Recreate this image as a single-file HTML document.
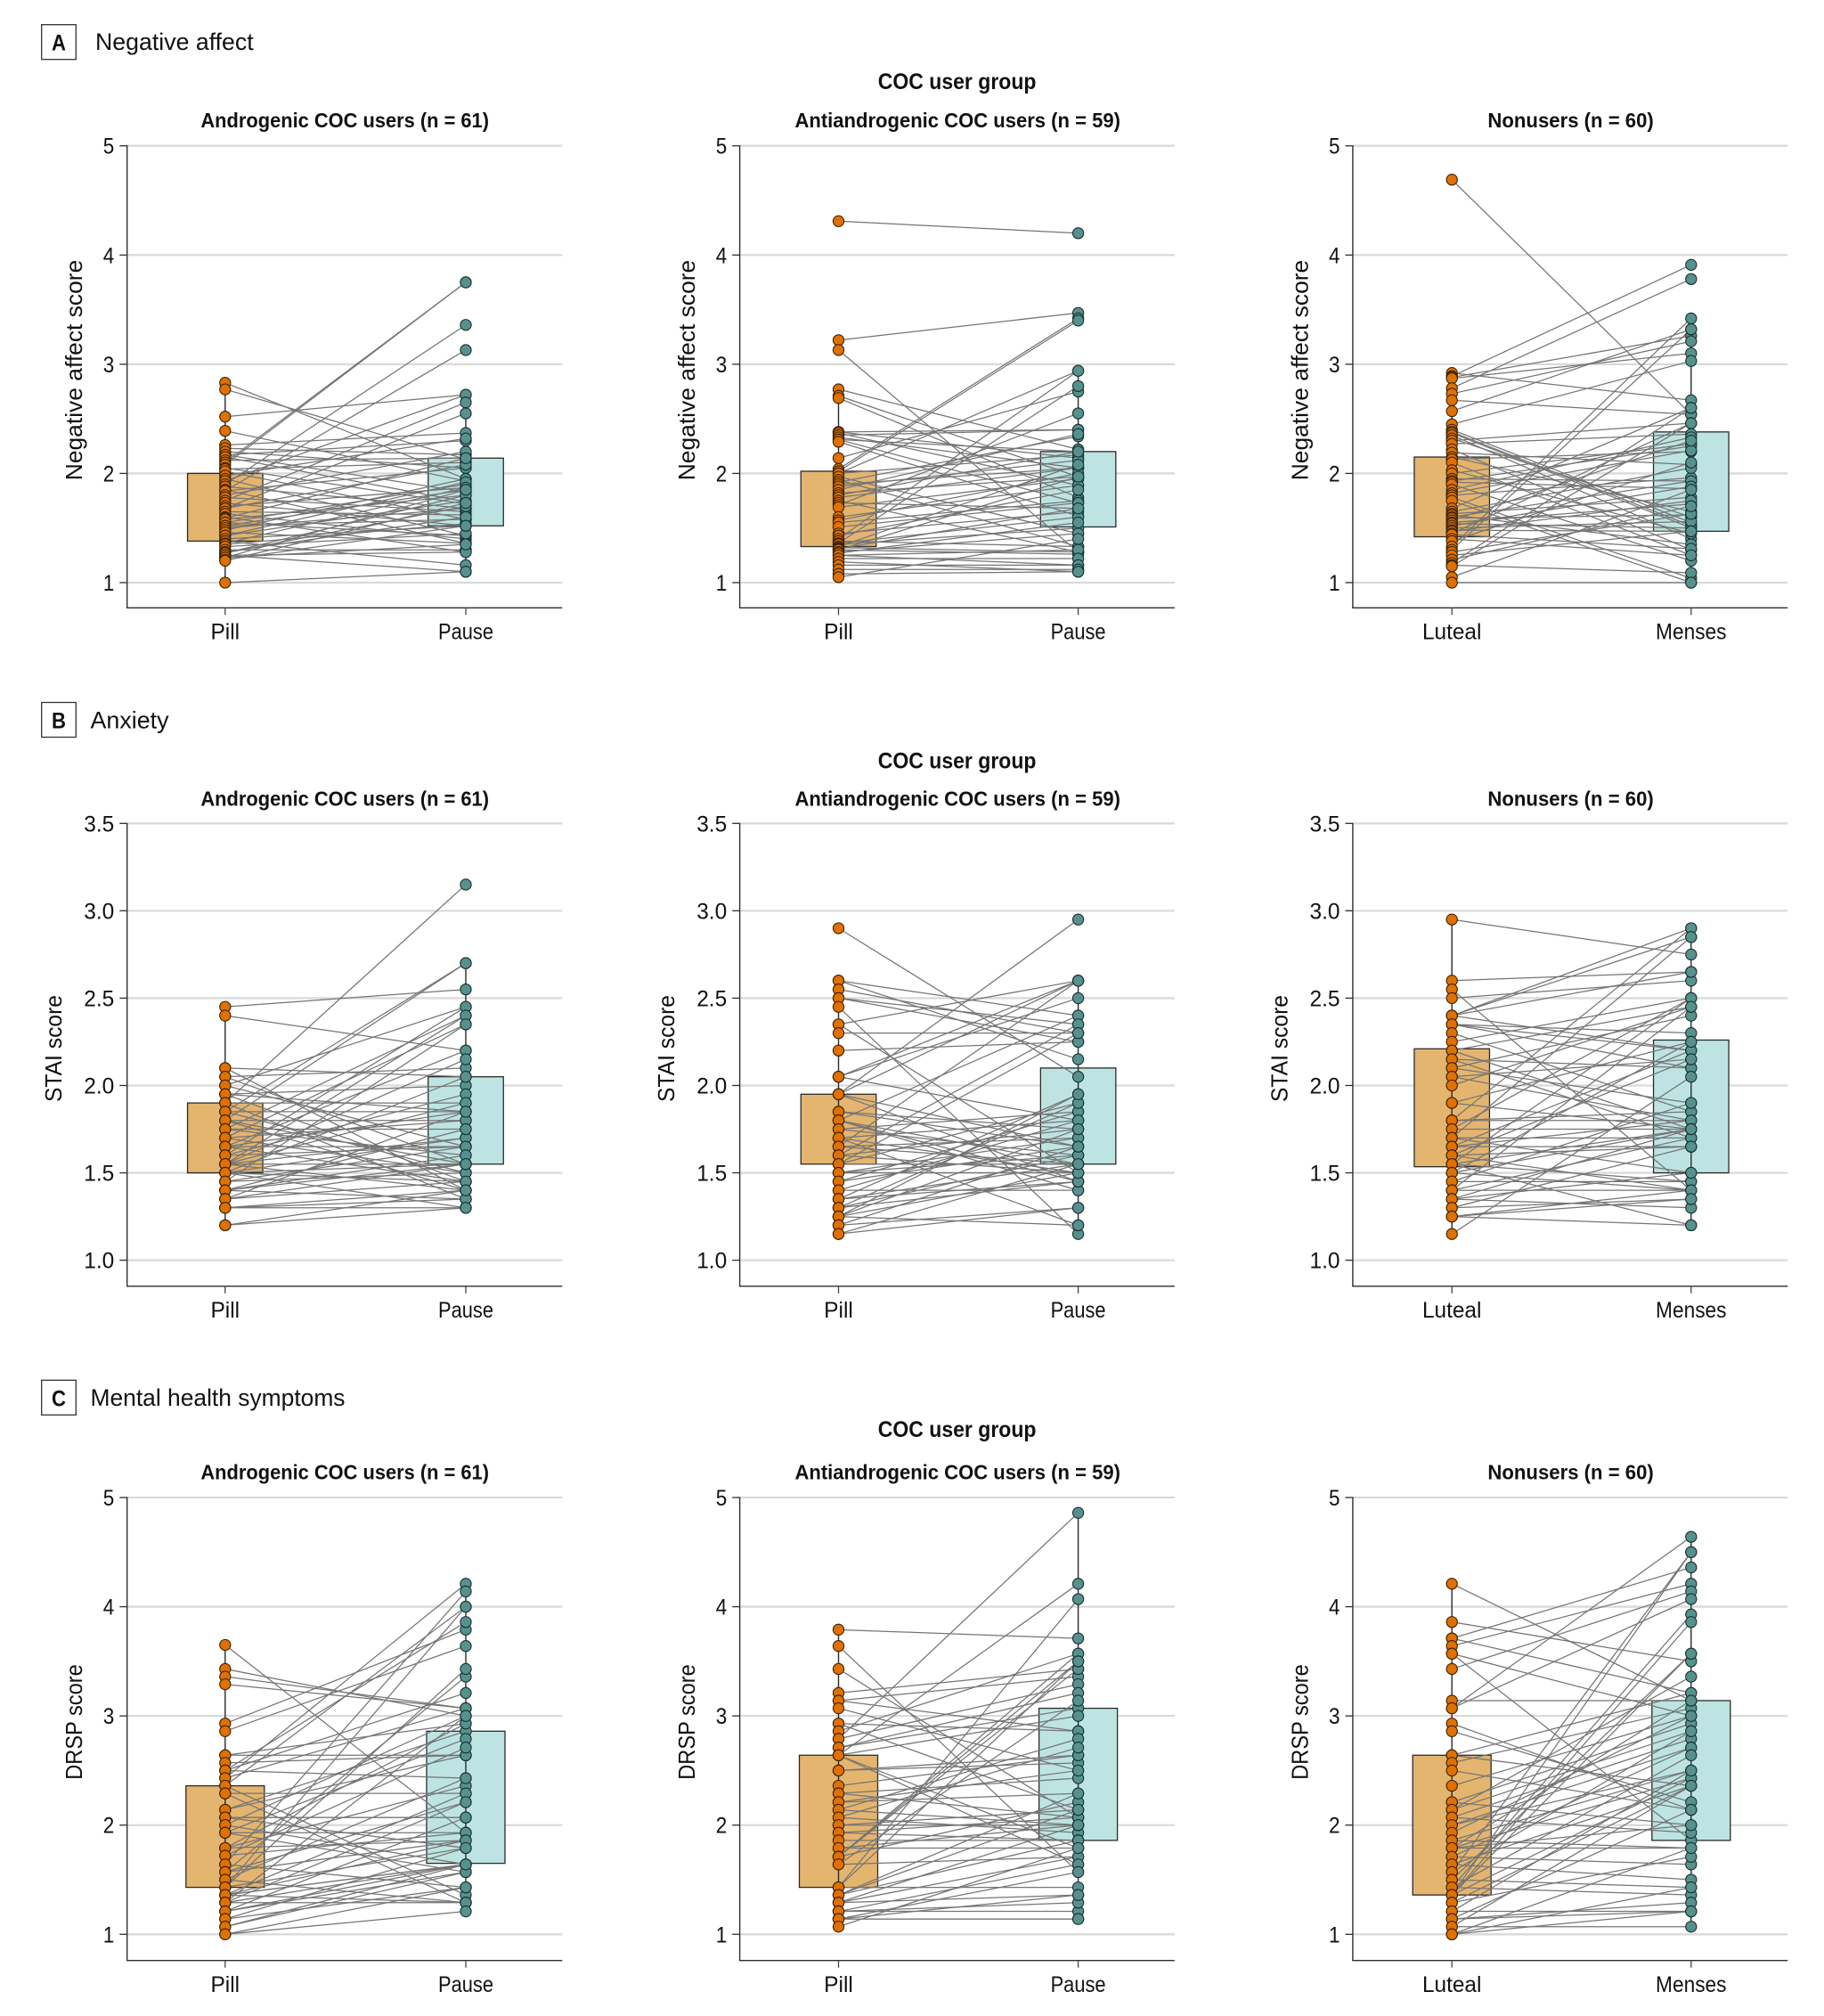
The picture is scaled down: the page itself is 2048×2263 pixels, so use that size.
<!DOCTYPE html>
<html lang="en">
<head>
<meta charset="utf-8">
<title>Negative affect, anxiety and mental health symptoms by COC user group</title>
<style>
html,body{margin:0;padding:0;background:#fff;}
svg{display:block;}
text{font-family:"Liberation Sans Narrow","Liberation Sans",sans-serif;fill:#111;}
</style>
</head>
<body>
<svg id="figure" xmlns="http://www.w3.org/2000/svg" width="2048" height="2263" viewBox="0 0 2048 2263"></svg>
<script>
// ---------- Categories and tick labels ----------
const cocCategories = ["Pill", "Pause"];
const nonuserCategories = ["Luteal", "Menses"];
const tickLabels1to5 = ["1", "2", "3", "4", "5"];
const tickLabelsStai = ["1.0", "1.5", "2.0", "2.5", "3.0", "3.5"];

// ---------- A: Negative affect ----------
const naAndroPill = [2.83,2.77,2.52,2.39,2.26,2.23,2.20,2.17,2.17,2.15,2.12,2.10,2.08,2.05,2.04,2.02,1.98,1.95,1.93,1.90,1.88,1.85,1.84,1.84,1.80,1.78,1.75,1.73,1.70,1.68,1.68,1.65,1.63,1.60,1.59,1.58,1.55,1.55,1.52,1.52,1.50,1.48,1.46,1.43,1.43,1.40,1.38,1.36,1.35,1.33,1.30,1.28,1.27,1.27,1.25,1.25,1.23,1.23,1.21,1.20,1.00];
const naAndroPause = [1.95,2.13,2.72,1.93,2.37,2.17,2.05,2.30,1.83,1.74,2.14,3.75,3.75,1.72,2.10,1.58,2.32,1.43,2.72,3.36,1.68,1.36,3.13,2.05,2.20,1.65,2.65,1.52,1.87,2.55,2.08,1.62,1.40,1.28,2.14,1.80,1.90,1.43,1.85,1.58,1.68,1.95,1.36,1.92,1.75,1.52,1.16,1.87,1.54,1.45,1.30,1.60,1.80,1.70,1.10,1.28,1.85,1.35,1.52,1.73,1.10];
const naAndroBoxPill = [1.38, 2.00];
const naAndroBoxPause = [1.52, 2.14];

const naAntiPill = [4.31,3.22,3.13,2.77,2.71,2.69,2.38,2.38,2.37,2.35,2.33,2.31,2.31,2.29,2.14,2.04,2.02,2.00,2.00,1.97,1.94,1.92,1.90,1.88,1.85,1.82,1.80,1.78,1.75,1.73,1.71,1.69,1.60,1.57,1.55,1.51,1.45,1.43,1.40,1.38,1.36,1.36,1.35,1.33,1.32,1.31,1.30,1.30,1.28,1.27,1.25,1.25,1.22,1.19,1.16,1.12,1.08,1.05];
const naAntiPause = [4.20,3.47,1.28,2.22,1.97,1.78,2.40,2.14,1.89,2.40,2.05,2.20,1.73,1.61,2.75,3.42,3.40,2.94,2.17,1.45,1.33,2.34,2.05,2.12,2.36,1.97,2.20,2.05,1.28,1.68,2.55,1.95,1.89,2.00,1.75,1.73,1.65,1.85,2.94,1.33,2.80,1.60,1.50,2.08,1.28,1.68,1.97,1.26,1.45,1.55,1.16,1.30,1.22,1.10,1.16,1.12,1.10,1.40];
const naAntiBoxPill = [1.33, 2.02];
const naAntiBoxPause = [1.51, 2.20];

const naNonPill = [4.69,2.92,2.89,2.88,2.87,2.78,2.73,2.67,2.57,2.45,2.40,2.38,2.37,2.35,2.32,2.30,2.27,2.22,2.19,2.15,2.13,2.10,2.03,2.00,1.95,1.93,1.92,1.90,1.85,1.82,1.80,1.78,1.75,1.68,1.65,1.63,1.62,1.60,1.59,1.57,1.55,1.54,1.52,1.50,1.48,1.47,1.45,1.44,1.40,1.38,1.33,1.30,1.28,1.25,1.21,1.18,1.16,1.15,1.05,1.00];
const naNonPause = [2.54,2.67,3.91,3.26,3.10,3.78,3.21,2.54,3.32,3.03,1.55,1.52,1.50,1.40,1.60,2.46,2.36,1.30,2.08,1.65,2.20,1.25,1.45,2.27,1.93,2.25,1.86,1.20,2.33,2.21,1.96,1.04,1.00,2.60,2.05,1.78,1.35,1.93,1.62,2.30,1.72,1.50,1.88,1.56,1.47,1.75,2.46,1.31,1.25,2.10,3.42,3.32,1.63,1.47,1.70,2.60,1.09,2.46,1.85,1.00];
const naNonBoxPill = [1.42, 2.15];
const naNonBoxPause = [1.47, 2.38];

// ---------- B: Anxiety (STAI) ----------
const staiAndroPill = [2.45,2.40,2.10,2.10,2.05,2.05,2.00,2.00,1.95,1.95,1.95,1.90,1.90,1.90,1.85,1.85,1.85,1.80,1.80,1.80,1.80,1.75,1.75,1.75,1.70,1.70,1.70,1.65,1.65,1.65,1.65,1.60,1.60,1.60,1.55,1.55,1.55,1.55,1.55,1.55,1.50,1.50,1.50,1.50,1.50,1.45,1.45,1.45,1.40,1.40,1.40,1.40,1.35,1.35,1.35,1.30,1.30,1.30,1.20,1.20];
const staiAndroPause = [2.55,2.20,2.05,1.40,2.10,1.55,2.45,1.65,2.00,1.45,1.85,3.15,1.90,1.35,2.70,1.85,1.50,2.70,1.80,1.55,1.40,2.40,1.75,1.60,2.35,1.50,1.80,2.20,1.85,1.45,1.65,2.45,1.65,1.95,2.40,2.15,1.55,1.70,1.40,1.90,2.05,1.70,1.45,1.30,1.55,2.35,1.65,1.50,1.75,1.60,1.55,1.35,1.55,1.45,1.85,1.40,1.30,1.35,1.30,1.40];
const staiAndroBoxPill = [1.50, 1.90];
const staiAndroBoxPause = [1.55, 2.05];

const staiAntiPill = [2.90,2.60,2.60,2.55,2.50,2.50,2.45,2.35,2.35,2.30,2.20,2.05,2.05,2.05,1.95,1.95,1.95,1.95,1.85,1.85,1.80,1.80,1.80,1.80,1.75,1.75,1.70,1.70,1.70,1.65,1.65,1.65,1.60,1.60,1.60,1.55,1.55,1.55,1.50,1.50,1.50,1.45,1.45,1.40,1.40,1.35,1.35,1.35,1.30,1.30,1.30,1.25,1.25,1.25,1.25,1.20,1.20,1.15,1.15];
const staiAntiPause = [2.05,2.40,2.15,2.30,2.25,2.35,1.15,2.60,1.50,2.30,2.25,2.60,1.80,2.50,2.95,2.60,1.65,1.45,1.65,1.75,2.40,1.55,1.45,1.40,1.85,1.60,1.80,1.50,1.20,2.60,1.55,1.70,2.35,1.75,1.50,1.90,2.30,1.55,1.60,1.50,1.70,1.85,1.65,1.40,1.80,1.45,1.95,1.55,1.60,1.45,1.90,1.20,1.50,1.75,1.95,1.65,1.30,1.55,1.30];
const staiAntiBoxPill = [1.55, 1.95];
const staiAntiBoxPause = [1.55, 2.10];

const staiNonPill = [2.95,2.60,2.55,2.50,2.40,2.40,2.40,2.40,2.35,2.35,2.35,2.30,2.25,2.20,2.20,2.15,2.15,2.10,2.10,2.05,2.05,2.00,1.90,1.90,1.80,1.80,1.80,1.75,1.75,1.70,1.70,1.70,1.65,1.65,1.65,1.60,1.60,1.60,1.55,1.55,1.55,1.55,1.50,1.50,1.50,1.45,1.45,1.40,1.40,1.40,1.35,1.35,1.35,1.30,1.30,1.25,1.25,1.25,1.15];
const staiNonPause = [2.75,2.65,1.40,2.60,2.90,2.85,2.65,2.20,2.30,2.10,2.20,1.85,2.50,2.45,1.75,2.10,1.70,2.40,1.90,2.15,1.80,2.45,2.25,1.75,2.90,1.80,1.85,2.50,1.75,2.85,1.50,1.70,2.20,1.80,1.65,2.15,1.65,1.40,2.50,1.75,1.45,1.20,2.25,1.40,1.75,1.90,1.45,2.45,1.70,1.40,1.75,1.50,1.30,1.65,1.35,1.40,1.20,1.35,2.05];
const staiNonBoxPill = [1.535, 2.21];
const staiNonBoxPause = [1.50, 2.26];

// ---------- C: Mental health symptoms (DRSP) ----------
const drspAndroPill = [3.65,3.43,3.36,3.29,2.93,2.86,2.64,2.64,2.57,2.50,2.50,2.50,2.43,2.43,2.36,2.36,2.29,2.29,2.14,2.14,2.07,2.07,2.07,2.00,2.00,1.93,1.93,1.93,1.79,1.79,1.79,1.72,1.72,1.64,1.64,1.57,1.57,1.57,1.50,1.50,1.43,1.43,1.43,1.36,1.36,1.36,1.36,1.36,1.29,1.29,1.29,1.29,1.21,1.21,1.21,1.14,1.14,1.07,1.07,1.00,1.00];
const drspAndroPause = [1.93,3.00,3.07,3.07,3.79,3.64,2.64,2.93,2.64,2.43,3.86,3.21,4.21,3.07,1.36,4.00,2.29,1.29,2.86,2.64,2.07,2.07,1.79,3.00,1.64,2.79,1.93,1.57,2.93,2.36,1.86,2.71,1.93,4.14,1.43,3.36,1.86,2.21,1.29,2.43,3.43,1.79,4.00,2.29,1.64,1.64,1.86,1.29,2.21,1.64,1.29,3.00,1.57,2.07,1.64,1.43,1.79,1.57,1.64,1.21,1.43];
const drspAndroBoxPill = [1.43, 2.36];
const drspAndroBoxPause = [1.65, 2.86];

const drspAntiPill = [3.79,3.64,3.43,3.21,3.14,3.14,3.07,2.93,2.93,2.86,2.79,2.79,2.71,2.71,2.64,2.64,2.64,2.64,2.50,2.50,2.36,2.29,2.29,2.21,2.21,2.14,2.14,2.07,2.07,2.00,2.00,1.93,1.93,1.86,1.79,1.79,1.71,1.71,1.71,1.71,1.64,1.64,1.43,1.43,1.43,1.36,1.36,1.36,1.29,1.29,1.29,1.21,1.21,1.21,1.14,1.14,1.14,1.14,1.07];
const drspAntiPause = [3.71,1.57,2.07,3.43,2.86,3.36,2.50,2.14,2.86,3.57,4.86,3.29,3.07,3.21,4.21,1.64,1.79,3.00,2.57,2.64,2.64,2.43,2.07,2.50,2.29,2.79,2.00,2.71,1.93,2.00,2.14,1.86,2.07,1.86,2.00,1.79,3.50,3.57,3.43,2.21,3.14,1.71,4.07,1.43,3.50,2.29,1.86,2.14,2.00,1.71,1.36,1.64,1.21,1.29,1.36,1.14,1.14,1.57,1.79];
const drspAntiBoxPill = [1.43, 2.64];
const drspAntiBoxPause = [1.86, 3.07];

const drspNonPill = [4.21,3.86,3.71,3.71,3.64,3.57,3.57,3.43,3.14,3.07,3.07,2.93,2.86,2.64,2.64,2.57,2.50,2.36,2.21,2.21,2.14,2.14,2.07,2.07,2.00,2.00,1.93,1.86,1.86,1.79,1.79,1.79,1.79,1.71,1.71,1.64,1.64,1.57,1.57,1.50,1.50,1.43,1.43,1.43,1.36,1.36,1.36,1.36,1.29,1.29,1.21,1.21,1.14,1.14,1.14,1.07,1.07,1.00,1.00,1.00];
const drspNonPause = [3.14,3.50,4.36,3.21,4.21,3.00,1.86,4.14,3.14,4.64,4.07,2.14,2.21,3.21,2.36,3.07,2.14,3.00,2.93,2.00,2.86,3.36,2.79,1.93,2.71,2.50,3.00,2.50,1.79,3.14,1.79,2.43,2.00,2.71,1.64,2.36,1.50,4.50,2.86,1.43,3.57,3.93,2.64,1.36,4.50,3.86,2.43,3.57,2.36,1.71,2.50,1.21,1.29,2.14,1.21,2.36,1.07,1.43,1.21,1.79];
const drspNonBoxPill = [1.36, 2.64];
const drspNonBoxPause = [1.86, 3.14];

// ---------- Layout (pixel geometry, separate from data) ----------
const SVG_NS = "http://www.w3.org/2000/svg";
const svg = document.getElementById("figure");
const columnLayouts = [
  { axisX: 142.7, leftX: 252.8, rightX: 523, endX: 631.3, center: 387.2, titleW: 323.6 },
  { axisX: 830.6, leftX: 941.5, rightX: 1210.6, endX: 1318.9, center: 1075.2, titleW: 365.5 },
  { axisX: 1518.9, leftX: 1630.2, rightX: 1898.8, endX: 2007.2, center: 1763.6, titleW: 186.4 }
];
const groupTitles = ["Androgenic COC users (n = 61)", "Antiandrogenic COC users (n = 59)", "Nonusers (n = 60)"];

const rowLayouts = [
  { id: "a", letter: "A", heading: "Negative affect", headingW: 177.7, headingX: 107, boxTop: 27.7, headingBase: 56,
    groupBase: 100.2, titleBase: 143, yTop: 163.7, yBottom: 654, axisY: 682.3, labelBase: 717.6,
    domainMin: 1, domainMax: 5, ticks: tickLabels1to5, yTitle: "Negative affect score", yTitleX: 0, yTitleCenter: 415.5, yTitleLen: 247.5, boxW: 84.5 },
  { id: "b", letter: "B", heading: "Anxiety", headingW: 88, headingX: 101.5, boxTop: 788.5, headingBase: 817.3,
    groupBase: 862.4, titleBase: 904.6, yTop: 924.3, yBottom: 1414.6, axisY: 1443.8, labelBase: 1479,
    domainMin: 1, domainMax: 3.5, ticks: tickLabelsStai, yTitle: "STAI score", yTitleX: -23, yTitleCenter: 1177, yTitleLen: 120, boxW: 84.5 },
  { id: "c", letter: "C", heading: "Mental health symptoms", headingW: 286, headingX: 101.5, boxTop: 1549.3, headingBase: 1578,
    groupBase: 1613, titleBase: 1660.7, yTop: 1681, yBottom: 2171.3, axisY: 2200.7, labelBase: 2236,
    domainMin: 1, domainMax: 5, ticks: tickLabels1to5, yTitle: "DRSP score", yTitleX: 0, yTitleCenter: 1933, yTitleLen: 129.5, boxW: 88 }
];

// Which named data arrays feed each row/column panel.
const panelSeries = [
  [
    [naAndroPill, naAndroPause, naAndroBoxPill, naAndroBoxPause],
    [naAntiPill, naAntiPause, naAntiBoxPill, naAntiBoxPause],
    [naNonPill, naNonPause, naNonBoxPill, naNonBoxPause]
  ],
  [
    [staiAndroPill, staiAndroPause, staiAndroBoxPill, staiAndroBoxPause],
    [staiAntiPill, staiAntiPause, staiAntiBoxPill, staiAntiBoxPause],
    [staiNonPill, staiNonPause, staiNonBoxPill, staiNonBoxPause]
  ],
  [
    [drspAndroPill, drspAndroPause, drspAndroBoxPill, drspAndroBoxPause],
    [drspAntiPill, drspAntiPause, drspAntiBoxPill, drspAntiBoxPause],
    [drspNonPill, drspNonPause, drspNonBoxPill, drspNonBoxPause]
  ]
];

function make(tag, attrs, parent) {
  const el = document.createElementNS(SVG_NS, tag);
  for (const key in attrs) el.setAttribute(key, attrs[key]);
  parent.appendChild(el);
  return el;
}
function makeLine(x1, y1, x2, y2, stroke, width, parent) {
  return make("line", { x1: x1, y1: y1, x2: x2, y2: y2, stroke: stroke, "stroke-width": width }, parent);
}
function makeText(str, x, y, size, weight, anchor, len, parent) {
  const el = make("text", { x: x, y: y, "font-size": size, "font-weight": weight, "text-anchor": anchor, textLength: len, lengthAdjust: "spacingAndGlyphs" }, parent);
  el.textContent = str;
  return el;
}

const AXIS_COLOR = "#2e2e2e";
const GRID_COLOR = "#dadada";
const LINK_COLOR = "#757575";
const PILL_FILL = "#e07000";
const PAUSE_FILL = "#57918e";
const PILL_BOX = "#e4b56f";
const PAUSE_BOX = "#bde4e3";
const DOT_R = 6.1;

function drawDots(values, x, yScale, fill, stroke, name, parent) {
  values.forEach(function (v) {
    const dot = make("circle", { cx: x, cy: yScale(v), r: DOT_R, fill: fill, stroke: stroke, "stroke-width": 1.1 }, parent);
    
    
  });
}

function drawBox(range, x, width, yScale, fill, name, parent) {
  const top = yScale(range[1]);
  const bottom = yScale(range[0]);
  const rect = make("rect", { x: x - width / 2, y: top, width: width, height: bottom - top, fill: fill, stroke: "#2b2b2b", "stroke-width": 1.3 }, parent);
  
  
}

// Whiskers follow the 1.5 x IQR rule, so outlying points float free of them.
function drawWhisker(values, range, x, yScale, name, parent) {
  const iqr = range[1] - range[0];
  const hiLimit = range[1] + 1.5 * iqr;
  const loLimit = range[0] - 1.5 * iqr;
  const kept = values.filter(function (v) { return v <= hiLimit && v >= loLimit; });
  const line = makeLine(x, yScale(Math.max.apply(null, kept)), x, yScale(Math.min.apply(null, kept)), "#2b2b2b", 1.4, parent);
  
  
}

function drawPanel(row, col, rowIndex, colIndex) {
  const series = panelSeries[rowIndex][colIndex];
  const leftVals = series[0], rightVals = series[1], leftBox = series[2], rightBox = series[3];
  const cats = colIndex === 2 ? nonuserCategories : cocCategories;
  const scaleY = function (v) {
    return row.yBottom - (v - row.domainMin) / (row.domainMax - row.domainMin) * (row.yBottom - row.yTop);
  };
  const scaleX = function (i) { return i === 0 ? col.leftX : col.rightX; };

  const g = make("g", {}, svg);
  
  

  // subgroup title
  const title = makeText(groupTitles[colIndex], col.center, row.titleBase, 23.5, "bold", "middle", col.titleW, g);
  
  

  // gridlines and y ticks
  row.ticks.forEach(function (label) {
    const v = parseFloat(label);
    const y = scaleY(v);
    const grid = makeLine(col.axisX, y, col.endX, y, GRID_COLOR, 2.3, g);
    
    
    const tick = makeLine(col.axisX - 8.4, y, col.axisX, y, AXIS_COLOR, 1.3, g);
    
    
    const tickText = makeText(label, col.axisX - 14.4, y + 9, 25, "normal", "end", label.length > 1 ? 34 : 12.5, g);
    
    
  });

  // boxes
  drawBox(leftBox, scaleX(0), row.boxW, scaleY, PILL_BOX, 'box-' + cats[0].toLowerCase(), g);
  drawBox(rightBox, scaleX(1), row.boxW, scaleY, PAUSE_BOX, 'box-' + cats[1].toLowerCase(), g);

  // whiskers
  drawWhisker(leftVals, leftBox, scaleX(0), scaleY, 'whisker-' + cats[0].toLowerCase(), g);
  drawWhisker(rightVals, rightBox, scaleX(1), scaleY, 'whisker-' + cats[1].toLowerCase(), g);

  // paired participant lines
  const pairs = Math.min(leftVals.length, rightVals.length);
  for (let i = 0; i < pairs; i++) {
    const link = makeLine(scaleX(0), scaleY(leftVals[i]), scaleX(1), scaleY(rightVals[i]), LINK_COLOR, 1.25, g);
    
    
  }

  // dots
  drawDots(leftVals, scaleX(0), scaleY, PILL_FILL, "#3a2206", 'point-' + cats[0].toLowerCase(), g);
  drawDots(rightVals, scaleX(1), scaleY, PAUSE_FILL, "#16302e", 'point-' + cats[1].toLowerCase(), g);

  // axes
  const yAxis = makeLine(col.axisX, row.yTop - 0.6, col.axisX, row.axisY, AXIS_COLOR, 1.4, g);
  
  
  const xAxis = makeLine(col.axisX - 0.7, row.axisY, col.endX, row.axisY, AXIS_COLOR, 1.4, g);
  
  

  // x ticks and labels
  const catWidths = { Pill: 32.7, Pause: 62, Luteal: 66.5, Menses: 79.5 };
  cats.forEach(function (cat, i) {
    const xTick = makeLine(scaleX(i), row.axisY, scaleX(i), row.axisY + 8, "#444", 1.3, g);
    
    
    const xLabel = makeText(cat, scaleX(i), row.labelBase, 25, "normal", "middle", catWidths[cat], g);
    
    
  });

  // y-axis title
  const titleX = col.axisX - 50.5 + row.yTitleX;
  const yTitle = makeText(row.yTitle, titleX, row.yTitleCenter, 26, "normal", "middle", row.yTitleLen, g);
  yTitle.setAttribute('transform', 'rotate(-90 ' + titleX + ' ' + row.yTitleCenter + ')');
  
  
}

rowLayouts.forEach(function (row, rowIndex) {
  const letterBox = make("rect", { x: 46.7, y: row.boxTop, width: 38.6, height: 39, fill: "#fff", stroke: "#333", "stroke-width": 1.3 }, svg);
  
  
  const letter = makeText(row.letter, 66, row.boxTop + 29, 25, "bold", "middle", 16, svg);
  
  
  const heading = makeText(row.heading, row.headingX, row.headingBase, 27, "normal", "start", row.headingW, svg);
  
  
  const group = makeText("COC user group", 1074.6, row.groupBase, 25, "bold", "middle", 177.7, svg);
  
  
  columnLayouts.forEach(function (col, colIndex) {
    drawPanel(row, col, rowIndex, colIndex);
  });
});
</script>
</body>
</html>
